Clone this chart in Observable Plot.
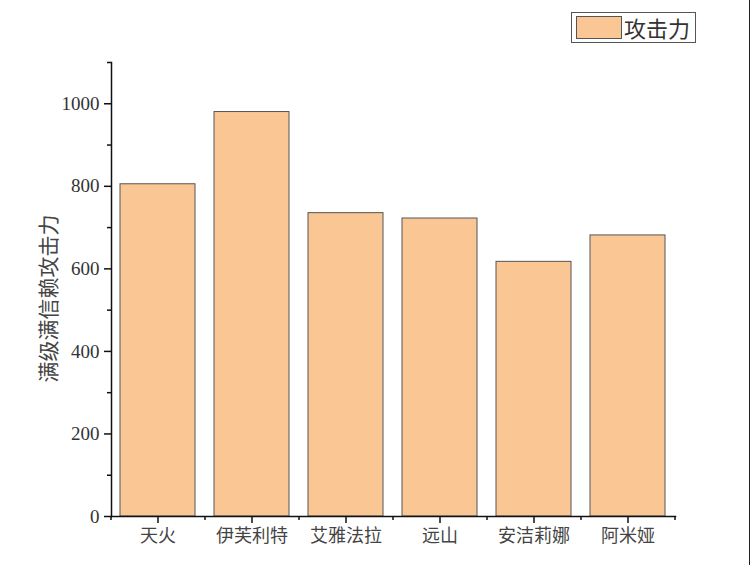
<!DOCTYPE html>
<html><head><meta charset="utf-8">
<script src="https://cdn.jsdelivr.net/npm/d3@7"></script>
<script src="https://cdn.jsdelivr.net/npm/@observablehq/plot@0.6"></script>
<style>
body{margin:0;background:#fff;}
#wrap{position:relative;width:750px;height:565px;overflow:hidden;background:#fff;}
#wrap::after{content:"";position:absolute;right:0;top:0;width:1.5px;height:565px;background:#222;}
#chart{position:absolute;left:0;top:0;}
#legend{position:absolute;left:571px;top:12px;width:125px;height:31px;border:1px solid #555;box-sizing:border-box;background:#fff;}
#legend .sw{position:absolute;left:4px;top:3px;width:46px;height:23px;border:1px solid #555;box-sizing:border-box;}
#legend .lb{position:absolute;left:52px;top:0px;font-family:"Noto Sans CJK SC";font-size:22px;line-height:28px;color:#333;}
</style></head>
<body>
<div id="wrap"><div id="chart"></div><div id="legend"></div></div>
<script>
const categories = ["天火", "伊芙利特", "艾雅法拉", "远山", "安洁莉娜", "阿米娅"];
const attack = [805, 980, 735, 722, 617, 681];
const seriesName = "攻击力";
const yTitle = "满级满信赖攻击力";
const yMajorTicks = [0, 200, 400, 600, 800, 1000];
const yMinorTicks = [100, 300, 500, 700, 900, 1100];
const barFill = "#F9C694";

const data = categories.map((c, i) => ({name: c, value: attack[i]}));
const lastCat = [categories[categories.length - 1]];

const plot = Plot.plot({
  width: 750,
  height: 565,
  marginLeft: 111,
  marginRight: 75,
  marginTop: 62,
  marginBottom: 49,
  style: {background: "transparent", color: "#333"},
  x: {domain: categories, paddingInner: 0.2, paddingOuter: 0.1, axis: null},
  y: {domain: [0, 1100], axis: null},
  marks: [
    Plot.barY(data, {x: "name", y: "value", fill: barFill, stroke: "#555", strokeWidth: 1}),
    Plot.frame({anchor: "left", stroke: "#111", strokeWidth: 1.5}),
    Plot.frame({anchor: "bottom", stroke: "#111", strokeWidth: 1.5}),
    Plot.axisY({ticks: yMajorTicks, tickSize: 7, tickPadding: 5, tickFormat: d => String(d),
      fontFamily: "Liberation Serif", fontSize: 19, fill: "#333", stroke: "#111", strokeWidth: 1.5, label: null}),
    Plot.axisY({ticks: yMinorTicks, tickSize: 4, text: null, stroke: "#111", strokeWidth: 1.5, label: null}),
    Plot.axisX({ticks: categories, tickSize: 7, tickPadding: 6,
      fontFamily: "Noto Sans CJK SC", fontSize: 18, fill: "#444", stroke: "#111", strokeWidth: 1.5, label: null}),
    Plot.axisX({ticks: categories, tickSize: 4, text: null, dx: -47, stroke: "#111", strokeWidth: 1.5, label: null}),
    Plot.axisX({ticks: lastCat, tickSize: 4, text: null, dx: 47, stroke: "#111", strokeWidth: 1.5, label: null}),
    Plot.text([yTitle], {frameAnchor: "left", textAnchor: "middle", lineAnchor: "middle", rotate: -90, dx: -62, dy: 9,
      fontFamily: "Noto Sans CJK SC", fontSize: 21, fill: "#444"})
  ]
});
document.getElementById("chart").appendChild(plot);

const lg = document.getElementById("legend");
const sw = document.createElement("div"); sw.className = "sw"; sw.style.background = barFill; lg.appendChild(sw);
const lb = document.createElement("div"); lb.className = "lb"; lb.textContent = seriesName; lg.appendChild(lb);
</script>
</body></html>
